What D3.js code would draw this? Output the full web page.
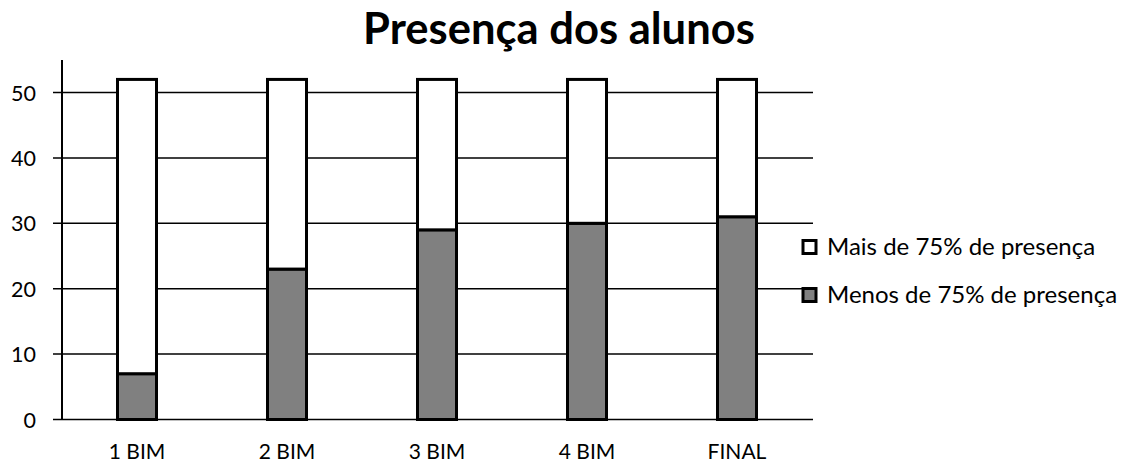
<!DOCTYPE html>
<html><head><meta charset="utf-8">
<script src="https://cdn.jsdelivr.net/npm/d3@7"></script>
<style>body{margin:0;background:#fff}svg{display:block}text{font-family:Lato,"Open Sans",sans-serif}</style>
</head><body>
<script>
const categories = ["1 BIM","2 BIM","3 BIM","4 BIM","FINAL"];
const menos = [7,23,29,30,31];
const mais = [45,29,23,22,21];
const yTicks = [0,10,20,30,40,50];
const seriesNames = ["Mais de 75% de presença","Menos de 75% de presença"];
const title = "Presença dos alunos";

const W=1123,H=464;
const svg=d3.select("body").append("svg").attr("width",W).attr("height",H);
const x=d3.scaleBand().domain(categories).range([62,812]).paddingInner(0.74).paddingOuter(0.37);
const y=d3.scaleLinear().domain([0,50]).range([419.5,92.5]);

const t=svg.append("text").attr("x",559).attr("y",44).attr("text-anchor","middle")
  .attr("font-weight","bold").attr("font-size",40).text(title);
const tw=t.node().getComputedTextLength();
t.attr("font-size",40*392/tw);

// gridlines
svg.append("g").selectAll("line").data(yTicks).join("line")
  .attr("x1",53).attr("x2",813).attr("y1",d=>y(d)).attr("y2",d=>y(d))
  .attr("stroke","#000").attr("stroke-width",1.5);
// y axis
const ya=svg.append("g").attr("transform","translate(62,0)")
  .call(d3.axisLeft(y).tickValues(yTicks).tickSize(0).tickPadding(26));
ya.select(".domain").remove();
ya.selectAll("text").attr("font-size",21.5).attr("font-family","Lato").attr("fill","#000").attr("dy","0.35em");
svg.append("line").attr("x1",62).attr("x2",62).attr("y1",60).attr("y2",420).attr("stroke","#000").attr("stroke-width",2);

// x axis labels
const xa=svg.append("g").attr("transform","translate(0,420)")
  .call(d3.axisBottom(x).tickSize(0).tickPadding(0));
xa.select(".domain").remove();
xa.selectAll("text").attr("font-size",21).attr("font-family","Lato").attr("fill","#000")
  .attr("dy",null).attr("y",39);

const stack=d3.stack().keys([0,1]).value((d,k)=>k===0?d.m:d.M);
const rows=categories.map((c,i)=>({c,m:menos[i],M:mais[i]}));
const st=stack(rows);
const fills=["#808080","#ffffff"];
st.forEach((s,k)=>{
  svg.append("g").selectAll("rect").data(s).join("rect")
    .attr("x",d=>x(d.data.c)).attr("width",x.bandwidth())
    .attr("y",d=>y(d[1])).attr("height",d=>y(d[0])-y(d[1]))
    .attr("fill",fills[k]).attr("stroke","#000").attr("stroke-width",3);
});

// legend
const leg=[{n:seriesNames[0],f:"#ffffff",y:255},{n:seriesNames[1],f:"#808080",y:303}];
const lg=svg.append("g");
leg.forEach(l=>{
  lg.append("rect").attr("x",803).attr("y",l.y-14.5).attr("width",13).attr("height",13)
    .attr("fill",l.f).attr("stroke","#000").attr("stroke-width",3);
  lg.append("text").attr("x",827).attr("y",l.y).attr("font-size",24).text(l.n);
});
</script>
</body></html>
